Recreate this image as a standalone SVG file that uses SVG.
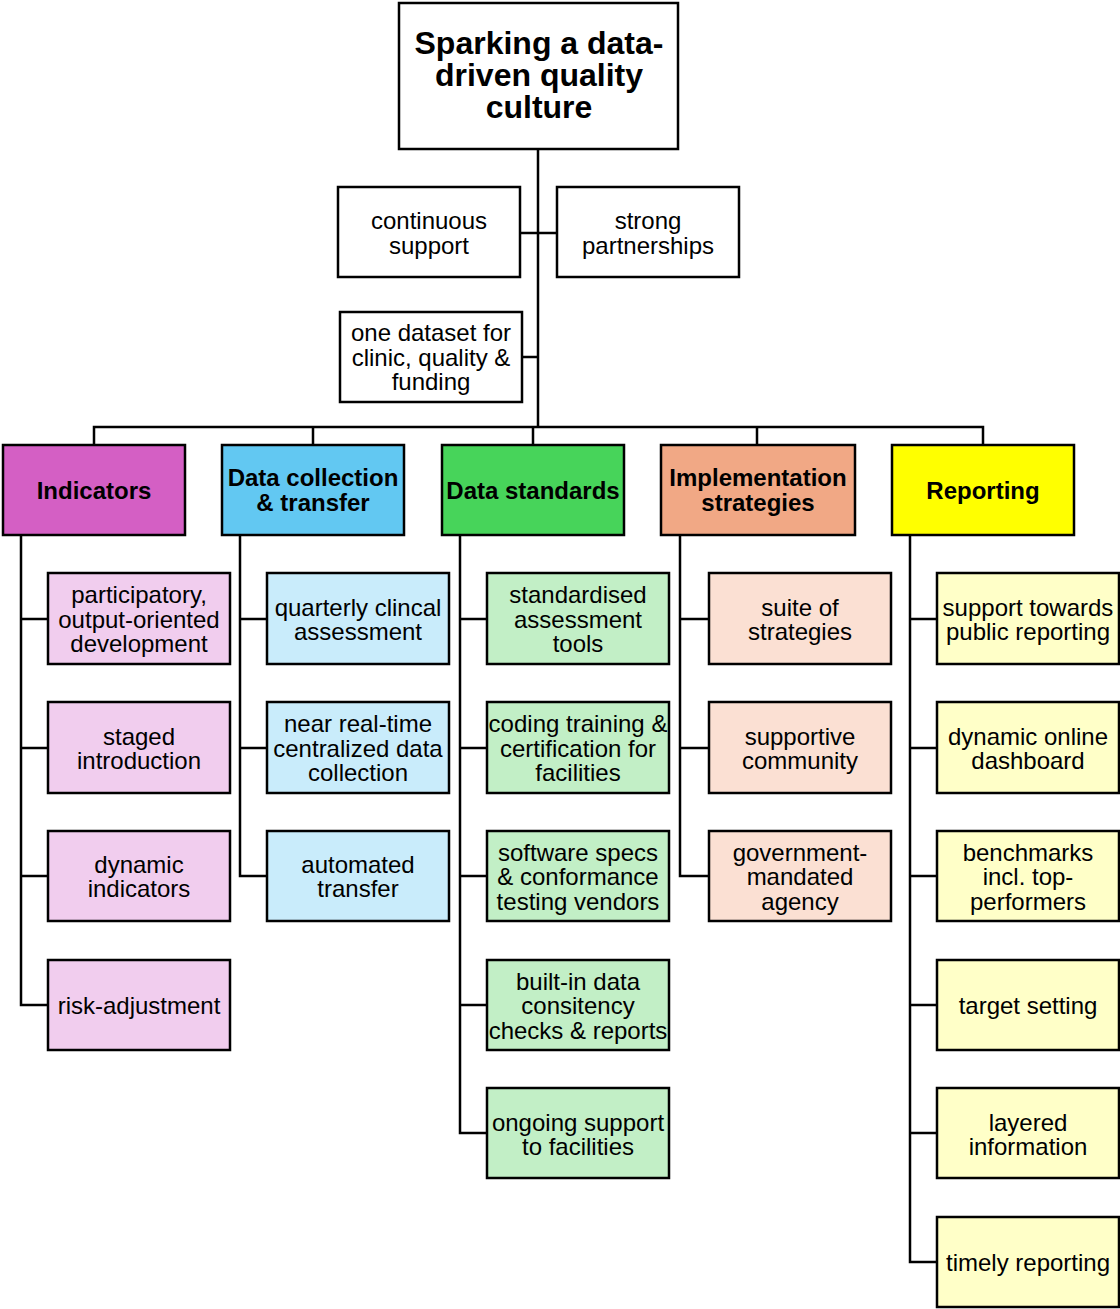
<svg xmlns="http://www.w3.org/2000/svg" width="1120" height="1309" viewBox="0 0 1120 1309">
<style>
rect{stroke:#000;stroke-width:2.5}
.w{fill:#fff}
text{font-family:"Liberation Sans",Arial,sans-serif;font-size:24px;text-anchor:middle;dominant-baseline:central;fill:#000}
.b{font-weight:bold}
.r{font-size:32px;font-weight:bold}
.c1{fill:#D45FC4}.k1{fill:#F1CDEE}
.c2{fill:#62C8F2}.k2{fill:#C9ECFB}
.c3{fill:#47D45A}.k3{fill:#C2EFC6}
.c4{fill:#F1A885}.k4{fill:#FBE0D3}
.c5{fill:#FFFF00}.k5{fill:#FFFFC8}
#connectors path{fill:none;stroke:#000;stroke-width:2.5}
</style>
<g id="connectors">
<path d="M538 149V427M520 233H557M522 357H538"/>
<path d="M94 445V427H983V445M313 427V445M533 427V445M757 427V445"/>
<path d="M21 535V1005H48M21 619H48M21 748H48M21 876H48"/>
<path d="M240 535V876H267M240 619H267M240 748H267"/>
<path d="M460 535V1133H487M460 619H487M460 748H487M460 876H487M460 1005H487"/>
<path d="M680 535V876H709M680 619H709M680 748H709"/>
<path d="M910 535V1262H937M910 619H937M910 748H937M910 876H937M910 1005H937M910 1133H937"/>
</g>
<g id="root"><rect class="w" x="399" y="3" width="279" height="146"/><text class="r" x="539" y="43">Sparking a data-</text><text class="r" x="539" y="75">driven quality</text><text class="r" x="539" y="107">culture</text></g>
<g id="continuous"><rect class="w" x="338" y="187" width="182" height="90"/><text x="429" y="220">continuous</text><text x="429" y="245">support</text></g>
<g id="partnerships"><rect class="w" x="557" y="187" width="182" height="90"/><text x="648" y="220">strong</text><text x="648" y="245">partnerships</text></g>
<g id="dataset"><rect class="w" x="340" y="312" width="182" height="90"/><text x="431" y="332">one dataset for</text><text x="431" y="357">clinic, quality &amp;</text><text x="431" y="381">funding</text></g>

<g id="indicators"><rect class="c1" x="3" y="445" width="182" height="90"/><text class="b" x="94" y="490">Indicators</text></g>
<g id="datacollection"><rect class="c2" x="222" y="445" width="182" height="90"/><text class="b" x="313" y="477">Data collection</text><text class="b" x="313" y="502">&amp; transfer</text></g>
<g id="datastandards"><rect class="c3" x="442" y="445" width="182" height="90"/><text class="b" x="533" y="490">Data standards</text></g>
<g id="implementation"><rect class="c4" x="661" y="445" width="194" height="90"/><text class="b" x="758" y="477">Implementation</text><text class="b" x="758" y="502">strategies</text></g>
<g id="reporting"><rect class="c5" x="892" y="445" width="182" height="90"/><text class="b" x="983" y="490">Reporting</text></g>

<g id="ind1"><rect class="k1" x="48" y="573" width="182" height="91"/><text x="139" y="594">participatory,</text><text x="139" y="619">output-oriented</text><text x="139" y="643">development</text></g>
<g id="ind2"><rect class="k1" x="48" y="702" width="182" height="91"/><text x="139" y="736">staged</text><text x="139" y="760">introduction</text></g>
<g id="ind3"><rect class="k1" x="48" y="831" width="182" height="90"/><text x="139" y="864">dynamic</text><text x="139" y="888">indicators</text></g>
<g id="ind4"><rect class="k1" x="48" y="960" width="182" height="90"/><text x="139" y="1005">risk-adjustment</text></g>

<g id="dc1"><rect class="k2" x="267" y="573" width="182" height="91"/><text x="358" y="607">quarterly clincal</text><text x="358" y="631">assessment</text></g>
<g id="dc2"><rect class="k2" x="267" y="702" width="182" height="91"/><text x="358" y="723">near real-time</text><text x="358" y="748">centralized data</text><text x="358" y="772">collection</text></g>
<g id="dc3"><rect class="k2" x="267" y="831" width="182" height="90"/><text x="358" y="864">automated</text><text x="358" y="888">transfer</text></g>

<g id="ds1"><rect class="k3" x="487" y="573" width="182" height="91"/><text x="578" y="594">standardised</text><text x="578" y="619">assessment</text><text x="578" y="643">tools</text></g>
<g id="ds2"><rect class="k3" x="487" y="702" width="182" height="91"/><text x="578" y="723">coding training &amp;</text><text x="578" y="748">certification for</text><text x="578" y="772">facilities</text></g>
<g id="ds3"><rect class="k3" x="487" y="831" width="182" height="90"/><text x="578" y="852">software specs</text><text x="578" y="876">&amp; conformance</text><text x="578" y="901">testing vendors</text></g>
<g id="ds4"><rect class="k3" x="487" y="960" width="182" height="90"/><text x="578" y="981">built-in data</text><text x="578" y="1005">consitency</text><text x="578" y="1030">checks &amp; reports</text></g>
<g id="ds5"><rect class="k3" x="487" y="1088" width="182" height="90"/><text x="578" y="1122">ongoing support</text><text x="578" y="1146">to facilities</text></g>

<g id="im1"><rect class="k4" x="709" y="573" width="182" height="91"/><text x="800" y="607">suite of</text><text x="800" y="631">strategies</text></g>
<g id="im2"><rect class="k4" x="709" y="702" width="182" height="91"/><text x="800" y="736">supportive</text><text x="800" y="760">community</text></g>
<g id="im3"><rect class="k4" x="709" y="831" width="182" height="90"/><text x="800" y="852">government-</text><text x="800" y="876">mandated</text><text x="800" y="901">agency</text></g>

<g id="rp1"><rect class="k5" x="937" y="573" width="182" height="91"/><text x="1028" y="607">support towards</text><text x="1028" y="631">public reporting</text></g>
<g id="rp2"><rect class="k5" x="937" y="702" width="182" height="91"/><text x="1028" y="736">dynamic online</text><text x="1028" y="760">dashboard</text></g>
<g id="rp3"><rect class="k5" x="937" y="831" width="182" height="90"/><text x="1028" y="852">benchmarks</text><text x="1028" y="876">incl. top-</text><text x="1028" y="901">performers</text></g>
<g id="rp4"><rect class="k5" x="937" y="960" width="182" height="90"/><text x="1028" y="1005">target setting</text></g>
<g id="rp5"><rect class="k5" x="937" y="1088" width="182" height="90"/><text x="1028" y="1122">layered</text><text x="1028" y="1146">information</text></g>
<g id="rp6"><rect class="k5" x="937" y="1217" width="182" height="90"/><text x="1028" y="1262">timely reporting</text></g>
</svg>
